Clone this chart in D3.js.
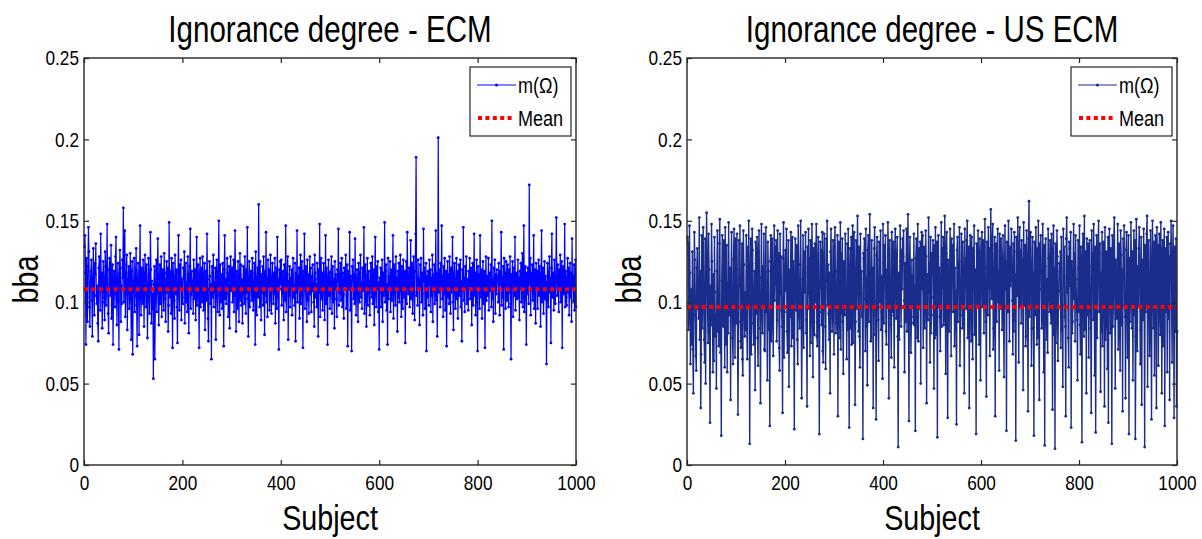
<!DOCTYPE html>
<html>
<head>
<meta charset="utf-8">
<script src="https://cdn.jsdelivr.net/npm/d3@7"></script>
<style>
  html, body { margin: 0; padding: 0; background: #fff; }
  svg { display: block; }
  text { font-family: "Liberation Sans", Arial, sans-serif; fill: #000; }
</style>
</head>
<body>
<svg id="chart" width="1202" height="539"></svg>
<script>
// ---------------- DATA ----------------
const titles = ["Ignorance degree - ECM", "Ignorance degree - US ECM"];
const xLabel = "Subject";
const yLabel = "bba";
const legendLabels = ["m(\u03A9)", "Mean"];
const xTicks = [0, 200, 400, 600, 800, 1000];
const xTickLabels = ["0", "200", "400", "600", "800", "1000"];
const yTicks = [0, 0.05, 0.1, 0.15, 0.2, 0.25];
const yTickLabels = ["0", "0.05", "0.1", "0.15", "0.2", "0.25"];
const meanValues = [0.108, 0.097];

// m(Omega) per subject (1..1000), values in thousandths (x 0.001)
const ecmValues = [
134,141,118,74,127,103,88,122,146,131,97,85,112,119,126,101,79,115,133,108,
92,124,117,136,104,99,110,87,76,121,128,113,95,142,107,118,84,100,125,116,
103,89,131,122,98,114,148,109,93,81,120,127,111,104,135,90,116,123,74,106,
119,112,97,128,140,105,86,113,124,101,71,117,132,121,88,110,99,126,115,158,
100,123,144,91,108,118,129,83,105,114,122,96,102,130,111,77,119,125,68,107,
113,127,94,104,120,133,98,73,115,124,109,80,117,147,103,92,121,112,99,126,
118,85,106,129,114,97,123,110,78,101,127,116,93,108,143,120,87,113,96,105,
53,111,122,65,100,119,126,94,109,139,117,86,104,123,99,115,128,91,107,120,
112,95,130,118,102,88,114,125,106,121,82,98,149,111,103,119,93,127,108,72,
124,116,101,90,129,113,105,120,97,75,118,141,107,95,123,110,126,89,114,103,
99,121,115,131,87,106,124,100,112,94,128,117,81,109,122,145,96,105,119,113,
107,93,126,114,102,120,89,116,140,98,111,123,104,72,118,127,97,113,121,100,
128,110,95,117,124,83,106,119,101,142,114,90,76,108,125,116,99,111,65,122,
103,118,129,97,112,106,121,77,115,126,104,94,119,150,109,92,123,100,117,113,
96,124,108,73,120,141,102,114,99,111,127,118,91,105,122,84,116,128,107,110,
121,100,113,126,94,109,144,117,82,104,119,96,125,112,88,115,130,101,123,98,
114,87,105,122,117,99,128,110,93,120,106,146,102,79,113,125,97,108,119,116,
101,127,111,95,104,124,118,74,131,107,92,114,121,103,160,112,97,125,109,89,
117,106,122,98,128,113,80,119,104,143,100,115,91,126,110,120,95,107,129,102,
93,115,124,109,99,118,105,127,87,112,121,96,140,103,114,71,120,108,125,111,
126,98,112,119,106,89,123,116,101,147,94,109,117,128,77,113,104,122,97,115,
108,120,92,114,127,103,111,98,124,76,118,106,144,100,116,109,121,90,112,129,
99,113,125,104,72,119,110,142,96,107,122,115,88,126,101,117,93,109,128,105,
121,94,116,107,123,112,100,85,129,118,103,111,97,124,114,79,120,106,148,91,
113,127,102,118,95,109,124,116,89,105,141,99,121,112,74,115,126,104,118,96,
107,119,128,93,111,122,100,114,84,125,108,117,102,91,120,113,145,98,106,116,
124,101,112,127,97,118,105,90,121,110,115,129,96,104,123,73,111,119,108,143,
95,116,108,70,122,113,126,102,117,99,139,109,92,114,120,105,88,124,111,100,
118,129,103,112,96,121,107,115,146,93,110,123,101,85,116,127,98,113,119,106,
92,110,124,117,103,128,99,111,120,86,114,140,105,97,122,108,125,94,112,71,
115,106,121,97,113,126,88,118,104,109,149,100,119,123,95,111,74,127,102,116,
109,125,94,114,120,101,117,141,90,106,123,112,98,128,107,115,82,119,103,124,
100,118,129,107,91,122,111,96,126,114,103,119,75,110,125,99,143,116,105,113,
121,97,108,138,102,117,124,93,112,128,106,89,119,142,189,104,115,98,126,110,
114,86,123,109,127,100,118,105,92,145,113,121,96,108,124,70,116,103,119,111,
98,126,111,120,94,115,104,129,88,117,107,123,99,112,144,101,118,79,109,201,
106,120,113,97,124,109,147,102,116,91,122,105,127,95,114,119,73,110,125,103,
117,99,128,112,93,121,106,115,140,100,83,118,124,108,96,113,127,102,119,90,
111,123,104,118,126,97,113,76,120,107,146,101,115,94,122,109,128,99,114,105,
95,119,110,127,102,116,121,86,112,124,98,107,142,104,118,92,113,126,100,70,
122,108,117,96,141,111,103,120,90,115,125,99,106,119,72,113,128,101,116,110,
104,127,95,112,118,107,123,97,150,102,114,88,121,109,126,93,117,105,120,113,
116,100,124,108,92,119,111,143,98,115,103,122,71,127,110,118,96,125,107,101,
123,112,97,120,106,128,99,65,117,113,125,91,109,121,104,140,95,114,118,102,
110,126,103,115,89,119,108,124,100,116,130,97,112,147,94,106,122,113,74,118,
105,121,114,99,172,111,127,92,118,107,123,101,115,141,96,110,120,87,124,108,
119,96,113,126,104,122,109,85,117,144,100,114,121,93,108,125,102,116,112,62,
101,124,110,97,119,128,106,115,75,121,142,103,112,118,95,126,107,99,114,152,
116,104,123,111,94,120,108,129,100,113,125,72,117,122,105,110,148,97,119,103,
98,115,127,106,121,92,112,124,103,118,88,139,109,116,101,123,95,114,126,97
];

const usEcmValues = [
140,136,83,89,147,118,62,95,108,74,131,71,44,92,143,126,99,67,58,121,
133,96,108,90,152,77,119,35,68,141,84,115,146,102,77,63,139,50,114,155,
128,97,75,142,120,81,26,110,86,148,125,89,57,117,64,140,106,79,92,47,
119,144,82,103,73,136,151,69,96,18,113,141,91,85,138,109,60,146,74,100,
135,57,112,81,149,98,92,121,40,117,143,104,78,62,126,145,98,66,139,87,
120,142,87,31,76,138,110,147,88,72,101,136,65,55,144,123,94,79,106,83,
141,86,65,134,97,150,98,13,111,139,68,87,145,132,103,74,92,119,46,137,
124,93,140,78,61,131,144,107,84,38,115,148,101,81,122,99,142,71,70,112,
146,94,104,52,137,119,83,88,24,125,141,76,96,139,90,67,116,147,101,134,
111,138,76,89,144,97,130,72,58,142,105,128,95,85,32,127,149,66,94,121,
132,107,145,82,69,113,138,48,95,120,91,143,73,103,140,78,125,88,22,116,
139,121,95,135,77,62,147,110,93,84,123,150,99,41,86,114,141,72,131,106,
118,143,81,89,36,134,96,145,105,127,67,138,75,96,148,120,54,133,88,80,
136,100,130,148,79,73,125,140,91,19,94,137,109,132,86,143,70,63,128,142,
109,85,59,139,113,150,98,123,93,77,118,44,131,145,104,82,90,138,116,68,
134,146,106,81,87,119,141,30,112,137,97,78,149,71,130,93,139,88,56,125,
120,92,142,96,108,65,136,83,145,101,23,118,133,84,140,74,110,147,75,129,
143,115,37,88,138,96,121,153,111,82,134,79,60,142,105,119,91,93,16,130,
127,139,102,70,145,85,115,49,132,141,88,117,154,109,76,78,138,98,121,35,
112,133,146,80,92,28,129,140,107,89,64,137,126,100,144,83,116,94,53,148,
124,87,135,111,141,82,74,120,99,149,133,41,115,138,105,86,66,143,119,94,
137,92,60,130,145,113,90,126,140,79,11,118,77,103,147,125,85,132,108,139,
128,144,101,57,124,88,117,145,82,129,154,95,27,121,140,112,69,91,126,98,
116,87,142,86,110,21,127,139,104,78,148,76,118,133,96,137,50,125,143,108,
141,72,120,134,84,99,144,128,38,117,93,89,152,106,124,63,140,81,92,130,
126,138,103,47,135,78,146,80,112,137,17,128,141,97,121,91,70,115,149,85,
133,109,140,86,91,153,118,56,130,143,104,29,126,95,82,119,145,111,67,139,
117,135,94,128,148,73,121,83,107,25,132,140,88,124,113,146,61,92,101,142,
125,84,137,119,87,44,145,110,127,96,138,150,78,116,134,35,122,141,103,76,
140,118,65,133,109,147,80,90,120,19,136,131,99,144,115,74,128,139,52,111,
130,143,97,124,138,81,114,151,105,88,42,137,121,92,146,109,133,67,125,157,
121,102,135,148,71,84,116,140,30,123,136,88,131,145,100,119,58,142,112,96,
139,126,83,114,141,90,54,120,147,108,125,21,137,118,94,150,129,76,134,110,
115,145,122,101,68,136,82,143,89,117,15,140,131,104,152,123,63,127,146,97,
132,87,138,119,126,46,149,113,98,135,73,79,144,130,107,33,139,162,91,124,
143,120,61,84,140,105,118,18,137,92,93,146,112,74,133,78,150,86,40,136,
126,141,108,84,89,148,117,57,135,12,122,139,99,77,114,69,145,127,103,94,
138,95,87,142,111,34,130,147,80,121,10,136,75,90,144,128,64,96,107,124,
119,131,72,140,83,98,48,145,116,134,91,85,30,139,152,106,128,78,60,137,
133,110,143,23,125,81,88,119,148,102,130,76,141,114,97,89,52,138,121,94,
147,86,68,134,111,14,126,142,105,79,153,83,131,117,44,139,92,96,136,66,
122,138,101,84,32,144,115,130,89,148,108,55,134,20,97,141,78,119,135,150,
94,130,136,45,118,82,143,73,109,137,121,36,146,77,88,131,124,59,140,26,
128,145,117,81,133,103,13,141,85,96,137,152,112,47,126,93,90,119,148,71,
107,136,80,58,144,129,86,120,33,139,115,147,98,91,41,132,143,110,66,118,
141,19,127,88,101,149,123,84,131,52,117,144,92,138,16,79,151,106,70,122,
98,133,146,120,62,83,140,37,114,126,89,145,111,11,135,94,100,142,153,48,
126,138,108,67,87,144,95,28,122,150,118,84,137,55,128,141,103,35,146,124,
135,61,119,142,92,80,149,113,44,130,138,73,121,145,24,116,133,94,140,57,
112,143,90,128,40,136,121,150,99,63,125,147,108,29,134,119,82,139,36,82
];

const seriesColors = ["#0000ff", "#1a2c8c"];
const seriesStroke = [1.2, 1.4];
const meanColor = "#ff0000";
const squeeze = 0.82; // condensed (Arial Narrow-like) text look

// ---------------- DRAW ----------------
const svg = d3.select("#chart");
const panels = [
  { left: 84, right: 576, values: ecmValues },
  { left: 687, right: 1177, values: usEcmValues }
];
const plotTop = 58, plotBottom = 465;
const axisColor = "#262626";

panels.forEach((p, i) => {
  const data = p.values.map((v, k) => ({ s: k + 1, v: v / 1000 }));
  const x = d3.scaleLinear().domain([0, 1000]).range([p.left, p.right]);
  const y = d3.scaleLinear().domain([0, 0.25]).range([plotBottom, plotTop]);
  const g = svg.append("g");

  g.append("rect").attr("x", p.left).attr("y", plotTop)
    .attr("width", p.right - p.left).attr("height", plotBottom - plotTop)
    .attr("fill", "#fff");

  const line = d3.line().x(d => x(d.s)).y(d => y(d.v));
  g.append("path").datum(data)
    .attr("fill", "none").attr("stroke", seriesColors[i])
    .attr("stroke-width", seriesStroke[i]).attr("d", line);
  g.append("g").selectAll("circle").data(data).join("circle")
    .attr("cx", d => x(d.s)).attr("cy", d => y(d.v)).attr("r", 1.4)
    .attr("fill", seriesColors[i]);

  g.append("line")
    .attr("x1", x(0)).attr("x2", x(1000))
    .attr("y1", y(meanValues[i])).attr("y2", y(meanValues[i]))
    .attr("stroke", meanColor).attr("stroke-width", 4)
    .attr("stroke-dasharray", "4,3.4");

  const fmtX = (d) => xTickLabels[xTicks.indexOf(d)];
  const fmtY = (d) => yTickLabels[yTicks.indexOf(d)];
  const ax = g.append("g").attr("transform", `translate(0,${plotBottom})`)
    .call(d3.axisBottom(x).tickValues(xTicks).tickFormat(fmtX)
      .tickSizeInner(-5).tickSizeOuter(0).tickPadding(10));
  const ay = g.append("g").attr("transform", `translate(${p.left},0)`)
    .call(d3.axisLeft(y).tickValues(yTicks).tickFormat(fmtY)
      .tickSizeInner(-5).tickSizeOuter(0).tickPadding(5));
  const at = g.append("g").attr("transform", `translate(0,${plotTop})`)
    .call(d3.axisTop(x).tickValues(xTicks).tickFormat("")
      .tickSizeInner(-5).tickSizeOuter(0));
  const ar = g.append("g").attr("transform", `translate(${p.right},0)`)
    .call(d3.axisRight(y).tickValues(yTicks).tickFormat("")
      .tickSizeInner(-5).tickSizeOuter(0));
  [ax, ay, at, ar].forEach(a => {
    a.select(".domain").remove();
    a.selectAll("line").attr("stroke", axisColor).attr("stroke-width", 1.2);
    a.selectAll("text").attr("font-size", 21)
      .attr("font-family", "'Liberation Sans',Arial,sans-serif")
      .attr("fill", "#000")
      .attr("transform", `scale(${squeeze},1)`);
  });
  ay.selectAll("text").attr("x", -5 / squeeze);

  g.append("rect").attr("x", p.left).attr("y", plotTop)
    .attr("width", p.right - p.left).attr("height", plotBottom - plotTop)
    .attr("fill", "none").attr("stroke", axisColor).attr("stroke-width", 1.4);

  const cx = (p.left + p.right) / 2;
  g.append("text").attr("class", "narrow").attr("x", cx).attr("y", 42).attr("text-anchor", "middle")
    .attr("font-size", 36).text(titles[i]);
  g.append("text").attr("class", "narrow").attr("x", cx).attr("y", 530).attr("text-anchor", "middle")
    .attr("font-size", 35).text(xLabel);
  g.append("text").attr("class", "narrow")
    .attr("transform", `translate(${p.left - 46},${(plotTop + plotBottom) / 2 + 18}) rotate(-90)`)
    .attr("text-anchor", "middle").attr("font-size", 35).text(yLabel);

  const lx = p.right - 106, ly = 67, lw = 101, lh = 69;
  const lg = g.append("g");
  lg.append("rect").attr("x", lx).attr("y", ly).attr("width", lw).attr("height", lh)
    .attr("fill", "#fff").attr("stroke", axisColor).attr("stroke-width", 1.2);
  const r1 = ly + 18, r2 = ly + 51;
  lg.append("line").attr("x1", lx + 7).attr("x2", lx + 46).attr("y1", r1).attr("y2", r1)
    .attr("stroke", seriesColors[i]).attr("stroke-width", 1.2);
  lg.append("circle").attr("cx", lx + 26.5).attr("cy", r1).attr("r", 1.5)
    .attr("fill", seriesColors[i]);
  lg.append("text").attr("class", "narrow").attr("x", lx + 48).attr("y", r1).attr("dy", "0.35em")
    .attr("font-size", 22).text(legendLabels[0]);
  lg.append("line").attr("x1", lx + 8).attr("x2", lx + 44).attr("y1", r2).attr("y2", r2)
    .attr("stroke", meanColor).attr("stroke-width", 4).attr("stroke-dasharray", "4,3.4");
  lg.append("text").attr("class", "narrow").attr("x", lx + 48).attr("y", r2).attr("dy", "0.35em")
    .attr("font-size", 22).text(legendLabels[1]);
});

// condensed look for titles, labels and legend texts
svg.selectAll("text.narrow").each(function () {
  const w = this.getComputedTextLength();
  if (w > 0) {
    d3.select(this).attr("textLength", (w * squeeze).toFixed(2))
      .attr("lengthAdjust", "spacingAndGlyphs");
  }
});
</script>
</body>
</html>
